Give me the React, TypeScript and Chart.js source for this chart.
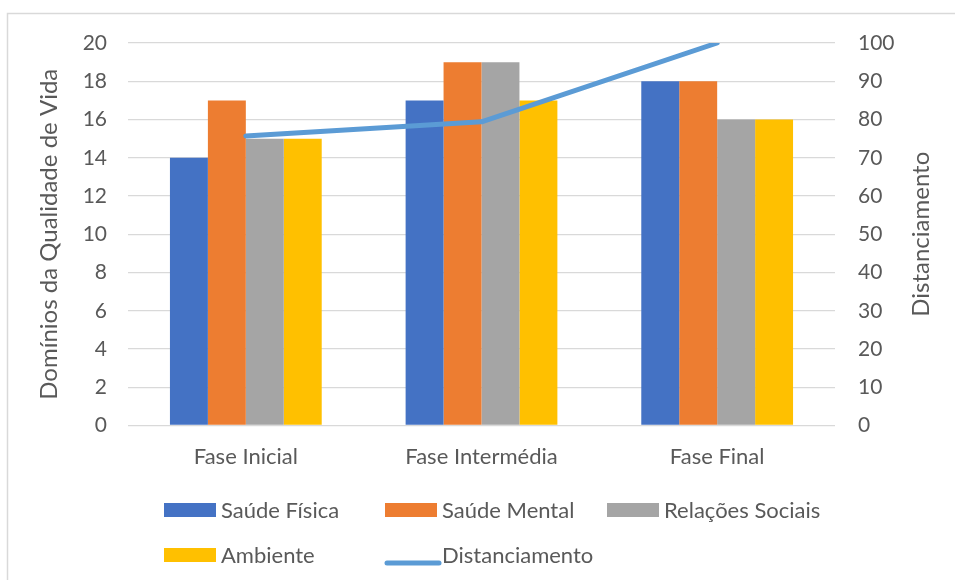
import { useEffect, useRef } from 'react';
import { Chart, registerables } from 'chart.js';

Chart.register(...registerables);

const categories = ['Fase Inicial', 'Fase Intermédia', 'Fase Final'];
const seriesLabels = ['Saúde Física', 'Saúde Mental', 'Relações Sociais', 'Ambiente', 'Distanciamento'];
const saudeFisica = [14, 17, 18];
const saudeMental = [17, 19, 18];
const relacoesSociais = [15, 19, 16];
const ambiente = [15, 17, 16];
const distanciamento = [75.7, 79.4, 100];
const leftAxisTitle = 'Domínios da Qualidade de Vida';
const rightAxisTitle = 'Distanciamento';

const FONT = 'Lato, "Open Sans", sans-serif';
const TEXT = '#595959';
const GRID = '#D9D9D9';
const COLORS = ['#4472C4', '#ED7D31', '#A5A5A5', '#FFC000', '#5B9BD5'];

const decorPlugin = {
  id: 'excelDecor',
  beforeDraw(chart: any) {
    const { ctx, width, height } = chart;
    ctx.save();
    ctx.fillStyle = '#ffffff';
    ctx.fillRect(0, 0, width, height);
    ctx.strokeStyle = GRID;
    ctx.lineWidth = 1.5;
    ctx.beginPath();
    ctx.moveTo(7.5, height + 5);
    ctx.lineTo(7.5, 13.5);
    ctx.lineTo(width + 5, 13.5);
    ctx.stroke();
    ctx.restore();
  },
  afterDraw(chart: any) {
    const { ctx, chartArea } = chart;
    const midY = (chartArea.top + chartArea.bottom) / 2;
    ctx.save();
    ctx.fillStyle = TEXT;
    ctx.font = `24px ${FONT}`;
    ctx.textAlign = 'center';
    ctx.textBaseline = 'alphabetic';
    // left title
    ctx.save();
    ctx.translate(57, midY);
    ctx.rotate(-Math.PI / 2);
    ctx.fillText(leftAxisTitle, 0, 0);
    ctx.restore();
    // right title
    ctx.save();
    ctx.translate(929, midY);
    ctx.rotate(-Math.PI / 2);
    ctx.fillText(rightAxisTitle, 0, 0);
    ctx.restore();

    // legend
    const cols = [164, 385, 607];
    const rows = [510, 555];
    ctx.font = `22px ${FONT}`;
    ctx.textAlign = 'left';
    chart.data.datasets.forEach((ds: any, i: number) => {
      const x = cols[i % 3];
      const cy = rows[Math.floor(i / 3)];
      if (ds.type === 'line') {
        ctx.strokeStyle = ds.borderColor;
        ctx.lineWidth = 5;
        ctx.lineCap = 'round';
        ctx.beginPath();
        ctx.moveTo(x + 2, cy + 8);
        ctx.lineTo(x + 54, cy + 8);
        ctx.stroke();
      } else {
        ctx.fillStyle = ds.backgroundColor;
        ctx.fillRect(x, cy - 7, 52, 14);
      }
      ctx.fillStyle = TEXT;
      ctx.fillText(ds.label, x + 57, cy + 7.5);
    });
    ctx.restore();
  },
};

export default function App() {
  const ref = useRef<HTMLCanvasElement | null>(null);
  useEffect(() => {
    let chart: Chart | null = null;
    let cancelled = false;
    const make = () => {
      if (cancelled || !ref.current) return;
      const barSets = [saudeFisica, saudeMental, relacoesSociais, ambiente].map((d, i) => ({
        type: 'bar' as const,
        label: seriesLabels[i],
        data: d,
        backgroundColor: COLORS[i],
        yAxisID: 'y',
        order: 1,
        categoryPercentage: 0.644,
        barPercentage: 1,
      }));
      chart = new Chart(ref.current, {
        type: 'bar',
        data: {
          labels: categories,
          datasets: [
            ...barSets,
            {
              type: 'line' as const,
              label: seriesLabels[4],
              data: distanciamento,
              borderColor: COLORS[4],
              backgroundColor: COLORS[4],
              borderWidth: 5,
              borderCapStyle: 'round',
              borderJoinStyle: 'round',
              pointRadius: 0,
              tension: 0,
              yAxisID: 'y1',
              order: 0,
            } as any,
          ],
        },
        options: {
          responsive: false,
          animation: false,
          layout: { padding: { top: 43, left: 0, right: 0, bottom: 0 } },
          plugins: { legend: { display: false }, tooltip: { enabled: false } },
          scales: {
            x: {
              offset: true,
              grid: { display: false, drawTicks: false },
              border: { display: false },
              ticks: { color: TEXT, font: { family: FONT, size: 22 }, padding: 18 },
              afterFit: (s: any) => { s.height = 154.5; },
            },
            y: {
              position: 'left',
              min: 0,
              max: 20,
              ticks: { stepSize: 2, color: TEXT, font: { family: FONT, size: 21 }, padding: 21 },
              grid: { color: GRID, lineWidth: 1.3, drawTicks: false },
              border: { display: false },
              afterFit: (s: any) => { s.width = 128; },
            },
            y1: {
              position: 'right',
              min: 0,
              max: 100,
              ticks: { stepSize: 10, color: TEXT, font: { family: FONT, size: 21 }, padding: 23 },
              grid: { display: false, drawTicks: false },
              border: { display: false },
              afterFit: (s: any) => { s.width = 120; },
            },
          },
        },
        plugins: [decorPlugin],
      });
    };
    const fontsReady = (document as any).fonts
      ? Promise.all([
          (document as any).fonts.load(`20px Lato`),
          (document as any).fonts.load(`20px "Open Sans"`),
        ]).catch(() => null)
      : Promise.resolve(null);
    fontsReady.then(make);
    return () => {
      cancelled = true;
      if (chart) chart.destroy();
    };
  }, []);
  return (
    <canvas
      ref={ref}
      width={955}
      height={580}
      style={{ position: 'absolute', left: 0, top: 0, width: 955, height: 580, display: 'block' }}
    />
  );
}
